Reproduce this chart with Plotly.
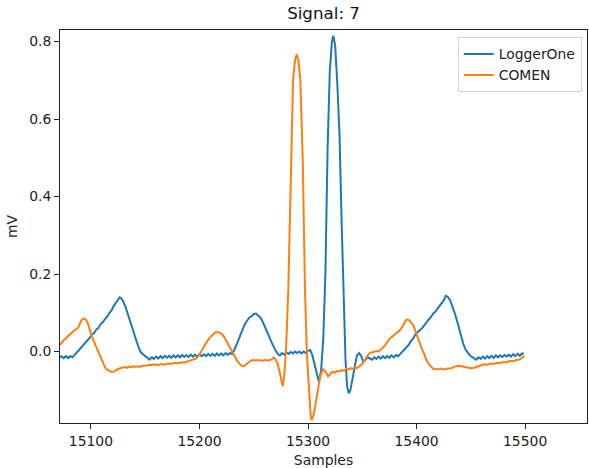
import plotly.graph_objects as go

# LoggerOne (blue) samples / values
logger_x = [15071,15073,15075,15077,15079,15081,15083,15085,15087,15089,15091,15093,15095,15097,15099,
            15101,15103,15105,15107,15109,15111,15113,15115,15117,15119,15121,15123,15125,15126.5,15128,
            15130,15132,15134,15136,15138,15140,15142,15144,15146,15148,15150,15152,15154,15156,15158,
            15160,15162,15164,15166,15168,15170,15172,15174,15176,15178,15180,15182,15184,15186,15188,
            15190,15192,15194,15196,15198,15200,15202,15204,15206,15208,15210,15212,15214,15216,15218,
            15220,15222,15224,15226,15228,15230,15232,15234,15236,15238,15240,15242,15244,15246,15248,
            15250,15252,15254,15256,15258,15260,15262,15264,15266,15268,15270,15272,15274,15276,15278,
            15280,15282,15284,15286,15288,15290,15292,15294,15296,15298,15300,15302,15304,15306,15308,
            15310,15312,15314,15316,15318,15320,15322,15323.3,15325,15327,15329,15331,15333,15334.5,15336,
            15337.5,15339,15341,15343,15345,15347,15349,15351,15353,15355,15357,15359,15361,15363,15365,
            15367,15369,15371,15373,15375,15377,15379,15381,15383,15385,15387,15389,15391,15393,15395,
            15397,15399,15401,15403,15405,15407,15409,15411,15413,15415,15417,15419,15421,15423,15425,
            15427,15429,15431,15433,15435,15437,15439,15441,15443,15445,15447,15449,15451,15453,15455,
            15457,15459,15461,15463,15465,15467,15469,15471,15473,15475,15477,15479,15481,15483,15485,
            15487,15489,15491,15493,15495,15497,15499]
logger_y = [-0.016,-0.012,-0.017,-0.012,-0.017,-0.012,-0.015,-0.007,-0.002,0.004,0.010,0.016,0.022,0.030,0.036,
            0.043,0.048,0.057,0.061,0.071,0.076,0.084,0.090,0.100,0.106,0.118,0.126,0.134,0.140,0.137,
            0.128,0.114,0.098,0.082,0.062,0.044,0.026,0.010,-0.002,-0.008,-0.012,-0.016,-0.021,-0.015,-0.019,
            -0.013,-0.018,-0.012,-0.017,-0.011,-0.016,-0.011,-0.016,-0.010,-0.015,-0.010,-0.015,-0.009,-0.014,-0.009,
            -0.014,-0.008,-0.013,-0.008,-0.013,-0.007,-0.012,-0.007,-0.012,-0.006,-0.011,-0.006,-0.011,-0.005,-0.010,
            -0.005,-0.010,-0.004,-0.009,-0.004,-0.007,0.004,0.016,0.030,0.045,0.060,0.072,0.080,0.088,0.091,
            0.097,0.098,0.094,0.088,0.078,0.066,0.055,0.040,0.026,0.012,0.003,-0.006,-0.010,-0.004,-0.008,
            -0.002,-0.006,-0.001,-0.005,0.000,-0.004,0.000,-0.005,0.000,-0.004,0.002,0.004,-0.010,-0.035,-0.060,
            -0.078,-0.050,0.030,0.200,0.520,0.720,0.800,0.815,0.790,0.690,0.560,0.330,0.100,-0.020,-0.090,
            -0.108,-0.100,-0.070,-0.030,-0.010,-0.004,-0.012,-0.027,-0.022,-0.015,-0.018,-0.021,-0.015,-0.019,-0.013,
            -0.018,-0.012,-0.017,-0.011,-0.016,-0.010,-0.015,-0.009,-0.012,-0.006,0.000,0.006,0.012,0.018,0.028,
            0.034,0.045,0.049,0.055,0.060,0.068,0.073,0.082,0.088,0.097,0.102,0.110,0.115,0.124,0.132,
            0.144,0.140,0.132,0.118,0.100,0.082,0.060,0.040,0.020,0.006,-0.002,-0.010,-0.014,-0.018,-0.021,
            -0.015,-0.019,-0.013,-0.018,-0.012,-0.017,-0.011,-0.016,-0.010,-0.015,-0.010,-0.014,-0.009,-0.013,-0.008,
            -0.013,-0.007,-0.012,-0.006,-0.011,-0.005,-0.005]

# COMEN (orange) samples / values
comen_x = [15071,15073,15075,15077,15079,15081,15083,15085,15087,15089,15091,15093,15095,15097,15099,
           15101,15103,15105,15107,15109,15111,15113,15115,15117,15119,15121,15123,15125,15127,15129,
           15131,15133,15135,15137,15139,15141,15143,15145,15147,15150,15153,15156,15159,15162,15165,
           15168,15171,15174,15177,15180,15183,15186,15189,15192,15195,15197,15199,15201,15203,15205,
           15207,15209,15211,15213,15215,15217,15219,15221,15223,15225,15227,15229,15231,15233,15235,
           15237,15239,15241,15243,15245,15247,15249,15252,15255,15258,15261,15264,15267,15268.5,15270,
           15272,15274,15275.5,15276.7,15278,15279.7,15281.8,15283,15284.3,15286.2,15288,15289.6,15291.2,15292.9,15295.1,
           15296.2,15297.2,15299,15301,15302.5,15303.4,15305,15306.5,15308,15309.5,15311,15312.6,15314,15316,15318.5,
           15320.5,15322.5,15324.5,15326.5,15328.5,15331,15333,15335,15337,15339,15341,15343,15345,15347,15349,
           15351,15353,15355,15357,15359,15361,15363,15365,15367,15369,15371,15373,15375,15377,15379,
           15381,15383,15385,15387,15389,15391,15393,15395,15397,15399,15401,15403,15405,15407,15409,
           15411,15413,15415,15417,15420,15423,15426,15429,15432,15435,15438,15441,15444,15447,15450,
           15453,15456,15459,15462,15465,15468,15471,15474,15477,15480,15483,15486,15489,15492,15495,
           15497,15499]
comen_y = [0.017,0.022,0.030,0.033,0.040,0.046,0.050,0.055,0.058,0.066,0.080,0.085,0.083,0.074,0.054,
           0.038,0.024,0.011,-0.002,-0.016,-0.030,-0.041,-0.047,-0.051,-0.053,-0.052,-0.048,-0.045,-0.043,-0.042,
           -0.040,-0.042,-0.039,-0.041,-0.038,-0.040,-0.038,-0.040,-0.037,-0.037,-0.034,-0.035,-0.033,-0.035,-0.032,
           -0.034,-0.031,-0.032,-0.029,-0.030,-0.028,-0.029,-0.026,-0.025,-0.021,-0.018,-0.012,-0.002,0.008,0.018,
           0.026,0.034,0.041,0.046,0.050,0.050,0.048,0.044,0.036,0.026,0.016,0.006,-0.005,-0.016,-0.025,
           -0.032,-0.037,-0.038,-0.033,-0.027,-0.024,-0.022,-0.023,-0.022,-0.024,-0.022,-0.023,-0.019,-0.015,-0.020,
           -0.032,-0.055,-0.080,-0.090,-0.065,0.003,0.158,0.330,0.500,0.700,0.752,0.767,0.752,0.700,0.500,
           0.330,0.158,-0.010,-0.120,-0.170,-0.177,-0.165,-0.143,-0.115,-0.091,-0.068,-0.053,-0.046,-0.052,-0.064,
           -0.058,-0.052,-0.055,-0.050,-0.052,-0.048,-0.050,-0.045,-0.047,-0.043,-0.045,-0.041,-0.043,-0.040,-0.035,
           -0.027,-0.018,-0.010,-0.004,-0.002,-0.001,0.001,0.000,0.004,0.010,0.016,0.026,0.033,0.037,0.042,
           0.046,0.050,0.056,0.064,0.076,0.083,0.081,0.075,0.068,0.052,0.036,0.020,0.006,-0.006,-0.022,
           -0.031,-0.039,-0.044,-0.045,-0.046,-0.044,-0.046,-0.044,-0.043,-0.039,-0.037,-0.038,-0.040,-0.041,-0.043,
           -0.042,-0.038,-0.036,-0.033,-0.034,-0.031,-0.032,-0.029,-0.030,-0.027,-0.028,-0.024,-0.025,-0.022,-0.021,
           -0.017,-0.010]

x_ticks = [15100, 15200, 15300, 15400, 15500]
y_ticks = [0.0, 0.2, 0.4, 0.6, 0.8]

FONT = "DejaVu Sans"
fig = go.Figure()
fig.add_trace(go.Scatter(x=logger_x, y=logger_y, mode="lines", name="LoggerOne",
                         line=dict(color="#1f77b4", width=2)))
fig.add_trace(go.Scatter(x=comen_x, y=comen_y, mode="lines", name="COMEN",
                         line=dict(color="#ff7f0e", width=2)))

axis_common = dict(showgrid=False, zeroline=False, showline=True, linecolor="#222",
                   linewidth=1, mirror=True, ticks="outside", ticklen=5, tickwidth=1,
                   tickcolor="#222", tickfont=dict(family=FONT, size=13.9, color="#222"))

fig.update_layout(
    width=589, height=468,
    margin=dict(l=60, r=2, t=30, b=45),
    paper_bgcolor="white", plot_bgcolor="white",
    font=dict(family=FONT, color="#222"),
    title=dict(text="Signal: 7", x=0.5493, xanchor="center", y=0.972, yanchor="middle",
               yref="container", xref="container", font=dict(family=FONT, size=16.7, color="#111")),
    xaxis=dict(range=[15071.5, 15557], tickvals=x_ticks, ticktext=[str(v) for v in x_ticks],
               title=dict(text="Samples", font=dict(family=FONT, size=13.9), standoff=7),
               **axis_common),
    yaxis=dict(range=[-0.1845, 0.830], tickvals=y_ticks, ticktext=[f"{v:.1f}" for v in y_ticks],
               title=dict(text="mV", font=dict(family=FONT, size=13.9), standoff=8),
               **axis_common),
    legend=dict(x=0.99, xanchor="right", y=0.981, yanchor="top",
                bgcolor="rgba(255,255,255,0.8)", bordercolor="rgba(204,204,204,0.9)", borderwidth=1,
                font=dict(family=FONT, size=13.9, color="#222"), itemwidth=30,
                tracegroupgap=2),
    showlegend=True,
)

fig.write_html("out.html")
